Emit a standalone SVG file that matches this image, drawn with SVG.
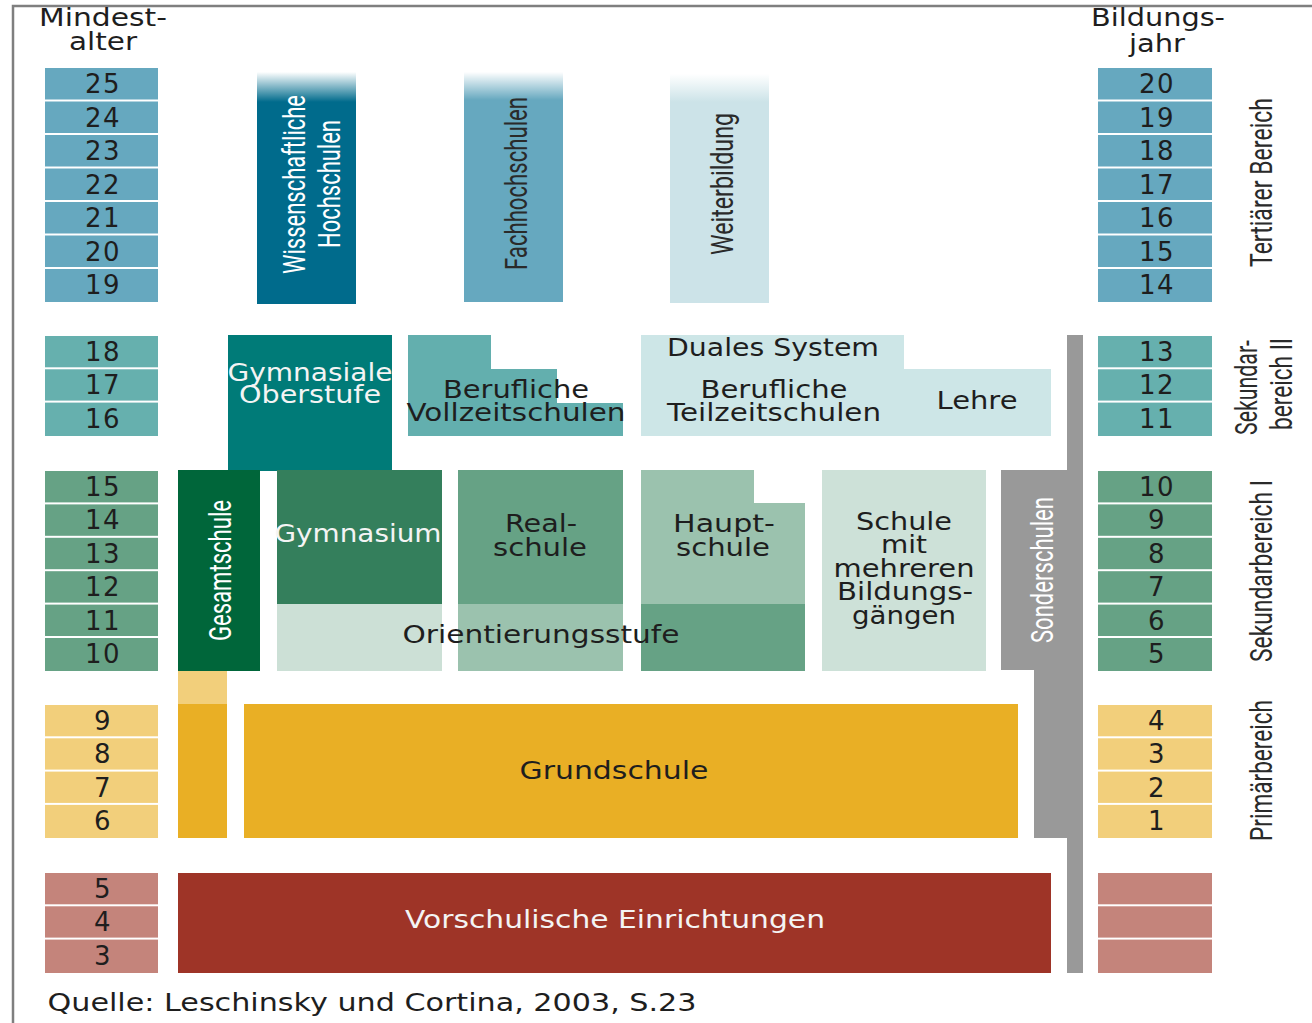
<svg xmlns="http://www.w3.org/2000/svg" width="1312" height="1023" viewBox="0 0 1312 1023">
<defs>
<linearGradient id="fade" x1="0" y1="0" x2="0" y2="1">
<stop offset="0" stop-color="#ffffff" stop-opacity="1"/>
<stop offset="1" stop-color="#ffffff" stop-opacity="0"/>
</linearGradient>
<style>
.t{font-family:"DejaVu Sans","Noto Sans",sans-serif;font-size:24px;fill:#1e1e1e;text-anchor:middle}
.w{fill:#f4f4f4}
.n{font-family:"DejaVu Sans","Noto Sans",sans-serif;font-size:26px;fill:#1e1e1e;text-anchor:middle;letter-spacing:1.5px}
.c{font-family:Roboto,"Liberation Sans",sans-serif;font-size:32px;fill:#2a2a2a;text-anchor:middle}
.cw{fill:#ffffff}
.ter{fill:#66a8bf}.s2{fill:#66b0ae}.s1{fill:#66a285}.pri{fill:#f2cf7b}.pre{fill:#c4847b}
</style>
</defs>
<rect x="0" y="0" width="1312" height="1023" fill="#ffffff"/>
<g id="frame" fill="none" stroke="#7f7f7f" stroke-width="2.5">
<path d="M13,1023 V6 H1312"/>
</g>
<g id="headers">
<text class="t" x="103" y="26" textLength="128" lengthAdjust="spacingAndGlyphs">Mindest-</text>
<text class="t" x="103" y="50" textLength="68" lengthAdjust="spacingAndGlyphs">alter</text>
<text class="t" x="1158" y="26" textLength="134" lengthAdjust="spacingAndGlyphs">Bildungs-</text>
<text class="t" x="1157" y="52" textLength="56" lengthAdjust="spacingAndGlyphs">jahr</text>
</g>
<g id="scale-left">
<rect class="ter" x="45" y="68" width="113" height="31.5"/>
<rect class="ter" x="45" y="101.5" width="113" height="31.5"/>
<rect class="ter" x="45" y="135" width="113" height="31.5"/>
<rect class="ter" x="45" y="168.5" width="113" height="31.5"/>
<rect class="ter" x="45" y="202" width="113" height="31.5"/>
<rect class="ter" x="45" y="235.5" width="113" height="31.5"/>
<rect class="ter" x="45" y="269" width="113" height="33"/>
<text class="n" x="103" y="93">25</text>
<text class="n" x="103" y="126.5">24</text>
<text class="n" x="103" y="160">23</text>
<text class="n" x="103" y="193.5">22</text>
<text class="n" x="103" y="227">21</text>
<text class="n" x="103" y="260.5">20</text>
<text class="n" x="103" y="294">19</text>
<rect class="s2" x="45" y="336" width="113" height="31.3"/>
<rect class="s2" x="45" y="369.3" width="113" height="31.3"/>
<rect class="s2" x="45" y="402.6" width="113" height="33.4"/>
<text class="n" x="103" y="361">18</text>
<text class="n" x="103" y="394.3">17</text>
<text class="n" x="103" y="427.6">16</text>
<rect class="s1" x="45" y="471" width="113" height="31.4"/>
<rect class="s1" x="45" y="504.4" width="113" height="31.4"/>
<rect class="s1" x="45" y="537.8" width="113" height="31.4"/>
<rect class="s1" x="45" y="571.2" width="113" height="31.4"/>
<rect class="s1" x="45" y="604.6" width="113" height="31.4"/>
<rect class="s1" x="45" y="638" width="113" height="33"/>
<text class="n" x="103" y="496">15</text>
<text class="n" x="103" y="529.4">14</text>
<text class="n" x="103" y="562.8">13</text>
<text class="n" x="103" y="596.2">12</text>
<text class="n" x="103" y="629.6">11</text>
<text class="n" x="103" y="663">10</text>
<rect class="pri" x="45" y="705" width="113" height="31.3"/>
<rect class="pri" x="45" y="738.3" width="113" height="31.3"/>
<rect class="pri" x="45" y="771.6" width="113" height="31.3"/>
<rect class="pri" x="45" y="804.9" width="113" height="33.1"/>
<text class="n" x="103" y="730">9</text>
<text class="n" x="103" y="763.3">8</text>
<text class="n" x="103" y="796.6">7</text>
<text class="n" x="103" y="829.9">6</text>
<rect class="pre" x="45" y="873" width="113" height="31.3"/>
<rect class="pre" x="45" y="906.3" width="113" height="31.3"/>
<rect class="pre" x="45" y="939.6" width="113" height="33.4"/>
<text class="n" x="103" y="898">5</text>
<text class="n" x="103" y="931.3">4</text>
<text class="n" x="103" y="964.6">3</text>
</g>
<g id="scale-right">
<rect class="ter" x="1098" y="68" width="114" height="31.5"/>
<rect class="ter" x="1098" y="101.5" width="114" height="31.5"/>
<rect class="ter" x="1098" y="135" width="114" height="31.5"/>
<rect class="ter" x="1098" y="168.5" width="114" height="31.5"/>
<rect class="ter" x="1098" y="202" width="114" height="31.5"/>
<rect class="ter" x="1098" y="235.5" width="114" height="31.5"/>
<rect class="ter" x="1098" y="269" width="114" height="33"/>
<text class="n" x="1157" y="93">20</text>
<text class="n" x="1157" y="126.5">19</text>
<text class="n" x="1157" y="160">18</text>
<text class="n" x="1157" y="193.5">17</text>
<text class="n" x="1157" y="227">16</text>
<text class="n" x="1157" y="260.5">15</text>
<text class="n" x="1157" y="294">14</text>
<rect class="s2" x="1098" y="336" width="114" height="31.3"/>
<rect class="s2" x="1098" y="369.3" width="114" height="31.3"/>
<rect class="s2" x="1098" y="402.6" width="114" height="33.4"/>
<text class="n" x="1157" y="361">13</text>
<text class="n" x="1157" y="394.3">12</text>
<text class="n" x="1157" y="427.6">11</text>
<rect class="s1" x="1098" y="471" width="114" height="31.4"/>
<rect class="s1" x="1098" y="504.4" width="114" height="31.4"/>
<rect class="s1" x="1098" y="537.8" width="114" height="31.4"/>
<rect class="s1" x="1098" y="571.2" width="114" height="31.4"/>
<rect class="s1" x="1098" y="604.6" width="114" height="31.4"/>
<rect class="s1" x="1098" y="638" width="114" height="33"/>
<text class="n" x="1157" y="496">10</text>
<text class="n" x="1157" y="529.4">9</text>
<text class="n" x="1157" y="562.8">8</text>
<text class="n" x="1157" y="596.2">7</text>
<text class="n" x="1157" y="629.6">6</text>
<text class="n" x="1157" y="663">5</text>
<rect class="pri" x="1098" y="705" width="114" height="31.3"/>
<rect class="pri" x="1098" y="738.3" width="114" height="31.3"/>
<rect class="pri" x="1098" y="771.6" width="114" height="31.3"/>
<rect class="pri" x="1098" y="804.9" width="114" height="33.1"/>
<text class="n" x="1157" y="730">4</text>
<text class="n" x="1157" y="763.3">3</text>
<text class="n" x="1157" y="796.6">2</text>
<text class="n" x="1157" y="829.9">1</text>
<rect class="pre" x="1098" y="873" width="114" height="31.3"/>
<rect class="pre" x="1098" y="906.3" width="114" height="31.3"/>
<rect class="pre" x="1098" y="939.6" width="114" height="33.4"/>
</g>
<g id="area-labels">
<text class="c" transform="translate(1272,182.5) rotate(-90)" textLength="169" lengthAdjust="spacingAndGlyphs">Tertiärer Bereich</text>
<text class="c" transform="translate(1257,387.5) rotate(-90)" textLength="95" lengthAdjust="spacingAndGlyphs">Sekundar-</text>
<text class="c" transform="translate(1292,384) rotate(-90)" textLength="92" lengthAdjust="spacingAndGlyphs">bereich II</text>
<text class="c" transform="translate(1272,571) rotate(-90)" textLength="182" lengthAdjust="spacingAndGlyphs">Sekundarbereich I</text>
<text class="c" transform="translate(1272,770.5) rotate(-90)" textLength="141" lengthAdjust="spacingAndGlyphs">Primärbereich</text>
</g>
<g id="wissenschaftliche-hochschulen">
<rect x="257" y="72" width="99" height="232" fill="#006b8c"/>
<rect x="257" y="72" width="99" height="30" fill="url(#fade)"/>
<text class="c cw" transform="translate(305,184.5) rotate(-90)" textLength="179" lengthAdjust="spacingAndGlyphs">Wissenschaftliche</text>
<text class="c cw" transform="translate(340,184) rotate(-90)" textLength="128" lengthAdjust="spacingAndGlyphs">Hochschulen</text>
</g>
<g id="fachhochschulen">
<rect x="464" y="72" width="99" height="230" fill="#66a8bf"/>
<rect x="464" y="72" width="99" height="28" fill="url(#fade)"/>
<text class="c" transform="translate(527,183.5) rotate(-90)" textLength="173" lengthAdjust="spacingAndGlyphs">Fachhochschulen</text>
</g>
<g id="weiterbildung">
<rect x="670" y="74" width="99" height="229" fill="#cce3e8"/>
<rect x="670" y="74" width="99" height="28" fill="url(#fade)"/>
<text class="c" transform="translate(733,184) rotate(-90)" textLength="142" lengthAdjust="spacingAndGlyphs">Weiterbildung</text>
</g>
<g id="gymnasiale-oberstufe">
<rect x="228" y="335" width="164" height="136" fill="#007b78"/>
<text class="t w" x="310" y="381" textLength="165" lengthAdjust="spacingAndGlyphs">Gymnasiale</text>
<text class="t w" x="310" y="403" textLength="142" lengthAdjust="spacingAndGlyphs">Oberstufe</text>
</g>
<g id="berufliche-vollzeitschulen">
<path d="M408,335 H491 V369 H557 V403 H623 V436 H408 Z" fill="#63afae"/>
<text class="t" x="516" y="398" textLength="146" lengthAdjust="spacingAndGlyphs">Berufliche</text>
<text class="t" x="516" y="421" textLength="219" lengthAdjust="spacingAndGlyphs">Vollzeitschulen</text>
</g>
<g id="duales-system">
<path d="M641,335 H904 V369 H1051 V436 H641 Z" fill="#cde6e7"/>
<text class="t" x="773" y="356" textLength="212" lengthAdjust="spacingAndGlyphs">Duales System</text>
<text class="t" x="774" y="398" textLength="147" lengthAdjust="spacingAndGlyphs">Berufliche</text>
<text class="t" x="774" y="421" textLength="214" lengthAdjust="spacingAndGlyphs">Teilzeitschulen</text>
<text class="t" x="977" y="409" textLength="81" lengthAdjust="spacingAndGlyphs">Lehre</text>
</g>
<g id="gesamtschule">
<rect x="178" y="470" width="82" height="201" fill="#00663a"/>
<text class="c cw" transform="translate(231,570.5) rotate(-90)" textLength="141" lengthAdjust="spacingAndGlyphs">Gesamtschule</text>
<rect x="178" y="671" width="49" height="33" fill="#f2cf7b"/>
<rect x="178" y="704" width="49" height="134" fill="#e9af25"/>
</g>
<g id="orientierungsstufe">
<rect x="277" y="604" width="165" height="67" fill="#cce0d6"/>
<rect x="458" y="604" width="165" height="67" fill="#9bc2ae"/>
<rect x="641" y="604" width="164" height="67" fill="#66a285"/>
</g>
<g id="gymnasium">
<rect x="277" y="470" width="165" height="134" fill="#347f5c"/>
<text class="t w" x="358" y="542" textLength="167" lengthAdjust="spacingAndGlyphs">Gymnasium</text>
</g>
<g id="realschule">
<rect x="458" y="470" width="165" height="134" fill="#66a285"/>
<text class="t" x="541" y="532" textLength="72" lengthAdjust="spacingAndGlyphs">Real-</text>
<text class="t" x="540" y="556" textLength="94" lengthAdjust="spacingAndGlyphs">schule</text>
</g>
<g id="hauptschule">
<path d="M641,470 H754 V503 H805 V604 H641 Z" fill="#9bc2ae"/>
<text class="t" x="724" y="532" textLength="102" lengthAdjust="spacingAndGlyphs">Haupt-</text>
<text class="t" x="723" y="556" textLength="94" lengthAdjust="spacingAndGlyphs">schule</text>
</g>
<text class="t" x="541" y="643" textLength="277" lengthAdjust="spacingAndGlyphs">Orientierungsstufe</text>
<g id="schule-mehrere-bildungsgaenge">
<rect x="822" y="470" width="164" height="201" fill="#cde1d8"/>
<text class="t" x="904" y="530" textLength="96" lengthAdjust="spacingAndGlyphs">Schule</text>
<text class="t" x="904" y="553" textLength="46" lengthAdjust="spacingAndGlyphs">mit</text>
<text class="t" x="904" y="577" textLength="141" lengthAdjust="spacingAndGlyphs">mehreren</text>
<text class="t" x="905" y="600" textLength="136" lengthAdjust="spacingAndGlyphs">Bildungs-</text>
<text class="t" x="904" y="624" textLength="104" lengthAdjust="spacingAndGlyphs">gängen</text>
</g>
<g id="sonderschulen">
<path d="M1067,335 H1083 V973 H1067 V838 H1034 V670 H1001 V470 H1067 Z" fill="#999999"/>
<text class="c cw" transform="translate(1053,570) rotate(-90)" textLength="146" lengthAdjust="spacingAndGlyphs">Sonderschulen</text>
</g>
<g id="grundschule">
<rect x="244" y="704" width="774" height="134" fill="#e9af25"/>
<text class="t" x="614" y="779" textLength="189" lengthAdjust="spacingAndGlyphs">Grundschule</text>
</g>
<g id="vorschulische-einrichtungen">
<rect x="178" y="873" width="873" height="100" fill="#9e3427"/>
<text class="t w" x="615" y="928" textLength="420" lengthAdjust="spacingAndGlyphs">Vorschulische Einrichtungen</text>
</g>
<g id="connectors"/>
<g id="source">
<text class="t" x="372" y="1011" textLength="649" lengthAdjust="spacingAndGlyphs">Quelle: Leschinsky und Cortina, 2003, S.23</text>
</g>
</svg>
